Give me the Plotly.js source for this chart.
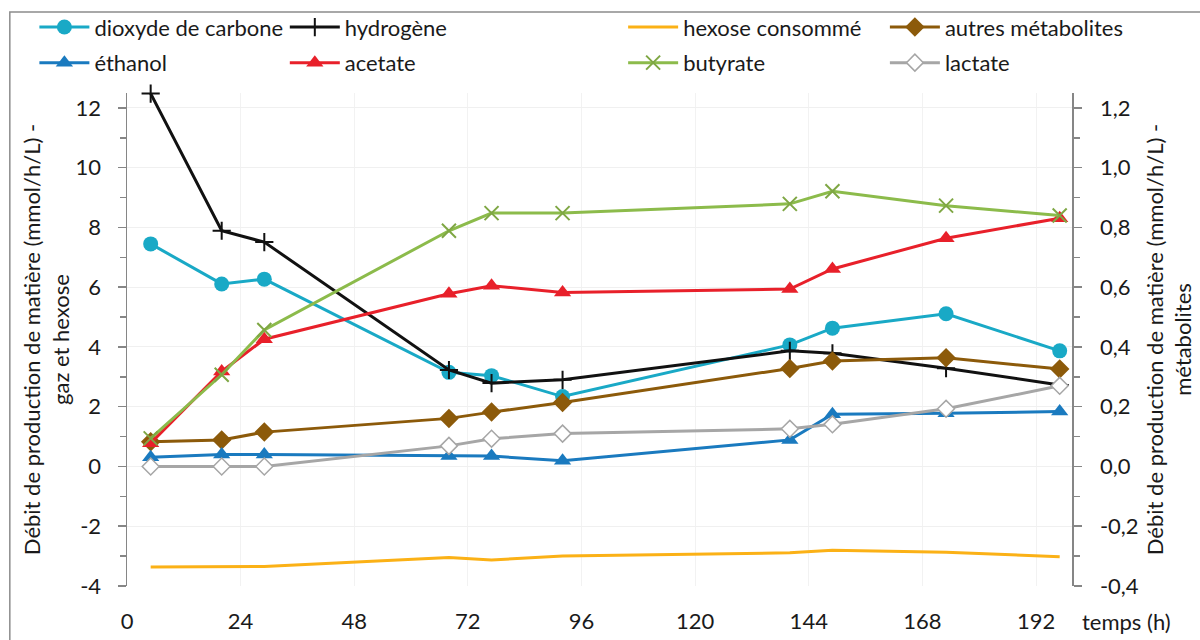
<!DOCTYPE html>
<html>
<head>
<meta charset="utf-8">
<script src="https://cdn.plot.ly/plotly-3.0.1.min.js"></script>
<style>html,body{margin:0;padding:0;background:#fff;}#chart{width:1200px;height:640px;}</style>
</head>
<body>
<div id="chart"></div>
<script>
// ---- data ----
const times = [5, 20, 29, 68, 77, 92, 140, 149, 173, 197];
// gases and hexose (left axis, mmol/h/L)
const co2 = [7.45, 6.11, 6.27, 3.15, 3.04, 2.34, 4.07, 4.63, 5.11, 3.87];
const h2 = [12.48, 7.89, 7.51, 3.23, 2.79, 2.90, 3.87, 3.79, 3.29, 2.73];
const hexose = [-3.36, -3.36, -3.35, -3.05, -3.13, -3.00, -2.89, -2.80, -2.87, -3.02];
// metabolites (right axis, mmol/h/L)
const autres = [0.083, 0.089, 0.115, 0.161, 0.182, 0.214, 0.328, 0.353, 0.364, 0.326];
const ethanol = [0.031, 0.040, 0.040, 0.035, 0.035, 0.019, 0.089, 0.175, 0.178, 0.184];
const acetate = [0.078, 0.318, 0.426, 0.578, 0.605, 0.582, 0.594, 0.661, 0.764, 0.831];
const butyrate = [0.094, 0.307, 0.457, 0.789, 0.848, 0.848, 0.879, 0.921, 0.873, 0.840];
const lactate = [0, 0, 0, 0.069, 0.093, 0.110, 0.126, 0.141, 0.193, 0.270];

// tick labels
const xTickVals = [0, 24, 48, 72, 96, 120, 144, 168, 192];
const xTickText = ['0', '24', '48', '72', '96', '120', '144', '168', '192'];
const yLeftVals = [-4, -2, 0, 2, 4, 6, 8, 10, 12];
const yLeftText = ['-4', '-2', '0', '2', '4', '6', '8', '10', '12'];
const yRightVals = [-0.4, -0.2, 0, 0.2, 0.4, 0.6, 0.8, 1.0, 1.2];
const yRightText = ['-0,4', '-0,2', '0,0', '0,2', '0,4', '0,6', '0,8', '1,0', '1,2'];

// ---- styling ----
const FONT = 'Lato, "Open Sans", sans-serif';
const FS = 22;
const TXT = '#1a1a1a';
const AX = '#868686';
const LW = 3;

function tr(name, y, color, axis, marker, legend) {
  const t = {
    type: 'scatter', mode: marker ? 'lines+markers' : 'lines',
    name: name, x: times, y: y, yaxis: axis, legend: legend, legendgroup: name,
    line: {color: color, width: LW},
    cliponaxis: false
  };
  if (marker) t.marker = marker;
  return t;
}

const traces = [
  tr('dioxyde de carbone', co2, '#19a9c6', 'y', {symbol: 'circle', size: 15, color: '#19a9c6'}, 'legend'),
  tr('hydrogène', h2, '#111111', 'y', {symbol: 'cross-thin', size: 13, color: '#111111', line: {color: '#111111', width: 2}}, 'legend2'),
  tr('hexose consommé', hexose, '#fbb116', 'y', null, 'legend3'),
  tr('autres métabolites', autres, '#8c5a0a', 'y2', {symbol: 'diamond', size: 15, color: '#8c5a0a'}, 'legend4'),
  tr('éthanol', ethanol, '#1a7abf', 'y2', {symbol: 'triangle-up', size: 15, color: '#1a7abf'}, 'legend'),
  tr('acetate', acetate, '#e8202a', 'y2', {symbol: 'triangle-up', size: 15, color: '#e8202a'}, 'legend2'),
  tr('butyrate', butyrate, '#8cbb4b', 'y2', {symbol: 'x-thin', size: 14, color: '#7fa744', line: {color: '#7fa744', width: 2}}, 'legend3'),
  tr('lactate', lactate, '#a6a6a6', 'y2', {symbol: 'diamond', size: 13, color: '#ffffff', line: {color: '#a6a6a6', width: 1.5}}, 'legend4')
];

const XR = [0, 199.6];
const YL = [-4, 12.5];
const YR = [-0.4, 1.25];
const zeroPos = (0 - YL[0]) / (YL[1] - YL[0]);

function leg(x) {
  return {
    x: x, y: 1.176, xanchor: 'left', yanchor: 'top', orientation: 'v',
    font: {family: FONT, size: FS, color: TXT}, bgcolor: 'rgba(0,0,0,0)',
    traceorder: 'grouped', tracegroupgap: 4, itemwidth: 50
  };
}

const layout = {
  width: 1200, height: 640,
  margin: {l: 127, r: 128, t: 93, b: 54, pad: 0, autoexpand: false},
  paper_bgcolor: '#ffffff', plot_bgcolor: '#ffffff',
  font: {family: FONT, size: FS, color: TXT},
  showlegend: true,
  legend: leg(-0.098),
  legend2: leg(0.167),
  legend3: leg(0.525),
  legend4: leg(0.802),
  xaxis: {
    range: XR, anchor: 'y', side: 'bottom',
    tickmode: 'array', tickvals: xTickVals, ticktext: xTickText,
    showline: false, ticks: '', showgrid: true, gridcolor: '#f2f2f2', gridwidth: 1,
    zeroline: false, ticklabelstandoff: 20,
    tickfont: {family: FONT, size: FS, color: TXT}
  },
  xaxis2: {
    range: XR, overlaying: 'x', anchor: 'free', position: zeroPos,
    showline: true, linecolor: AX, linewidth: 1.5,
    tickmode: 'linear', tick0: 0, dtick: 24, ticks: 'inside', ticklen: 6, tickcolor: AX, tickwidth: 1.5,
    minor: {tickmode: 'linear', tick0: 0, dtick: 12, ticks: 'inside', ticklen: 5, tickcolor: AX, tickwidth: 1.5},
    showticklabels: false, showgrid: false, zeroline: false
  },
  xaxis3: {
    range: XR, overlaying: 'x', anchor: 'free', position: zeroPos,
    showline: false, tickmode: 'linear', tick0: 0, dtick: 24,
    ticks: 'outside', ticklen: 6, tickcolor: AX, tickwidth: 1.5,
    showticklabels: false, showgrid: false, zeroline: false
  },
  yaxis: {
    range: YL, tickmode: 'array', tickvals: yLeftVals, ticktext: yLeftText,
    showline: true, linecolor: AX, linewidth: 1.5,
    ticks: 'outside', ticklen: 8, tickcolor: AX, tickwidth: 1.5,
    minor: {tickmode: 'linear', tick0: 0, dtick: 1, ticks: 'outside', ticklen: 6, tickcolor: AX, tickwidth: 1.5},
    showgrid: true, gridcolor: '#f0f0f0', gridwidth: 1, zeroline: false,
    ticklabelstandoff: 12,
    tickfont: {family: FONT, size: FS, color: TXT},
    title: {text: 'Débit de production de matière (mmol/h/L) -<br>gaz et hexose', font: {family: FONT, size: FS, color: TXT}}
  },
  yaxis2: {
    range: YR, overlaying: 'y', side: 'right', anchor: 'x',
    tickmode: 'array', tickvals: yRightVals, ticktext: yRightText,
    showline: true, linecolor: AX, linewidth: 1.5,
    ticks: 'outside', ticklen: 8, tickcolor: AX, tickwidth: 1.5,
    minor: {tickmode: 'linear', tick0: 0, dtick: 0.1, ticks: 'outside', ticklen: 6, tickcolor: AX, tickwidth: 1.5},
    showgrid: false, zeroline: false,
    ticklabelstandoff: 14,
    tickfont: {family: FONT, size: FS, color: TXT},
    title: {text: 'Débit de production de matière (mmol/h/L) -<br>métabolites', font: {family: FONT, size: FS, color: TXT}}
  },
  annotations: [{
    text: 'temps (h)', xref: 'paper', yref: 'paper', x: 1.058, y: -0.073,
    xanchor: 'center', yanchor: 'middle', showarrow: false,
    font: {family: FONT, size: FS, color: TXT}
  }],
  shapes: [{
    type: 'rect', xref: 'paper', yref: 'paper', layer: 'below',
    x0: -0.124, x1: 1.2, y0: -0.2, y1: 1.1643,
    line: {color: '#8c8c8c', width: 1.5}, fillcolor: 'rgba(0,0,0,0)'
  }]
};

Plotly.newPlot('chart', traces, layout, {displayModeBar: false, staticPlot: true});
</script>
</body>
</html>
